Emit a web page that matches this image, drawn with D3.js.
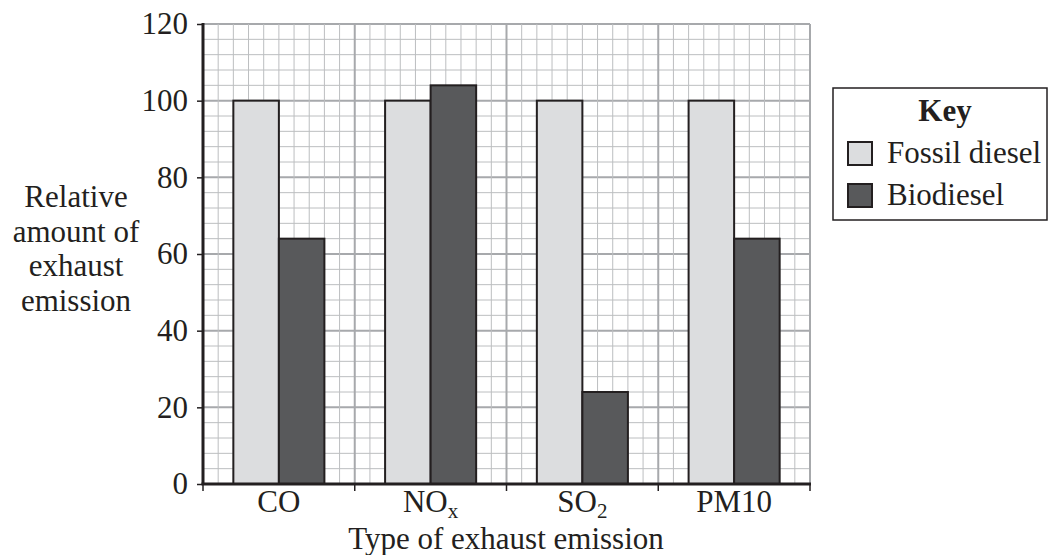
<!DOCTYPE html>
<html lang="en">
<head>
<meta charset="UTF-8">
<title>Exhaust emissions</title>
<script src="https://d3js.org/d3.v7.min.js"></script>
<style>
  body { margin: 0; background: #fff; }
  svg { display: block; font-family: "Liberation Serif", "Times New Roman", serif; fill: #231f20; }
</style>
</head>
<body>
<svg id="chart" width="1048" height="555"></svg>
<script>
// data
const categories = ["CO", "NOx", "SO2", "PM10"];
const fossil = [100, 100, 100, 100];
const biodiesel = [64, 104, 24, 64];
const yTicks = [0, 20, 40, 60, 80, 100, 120];
const seriesNames = ["Fossil diesel", "Biodiesel"];
const seriesColors = ["#dcdddf", "#58595b"];

const plot = { left: 203, right: 810, top: 24, bottom: 484 };
const fs = 31;
const svg = d3.select("#chart");

const x = d3.scaleBand().domain(categories).range([plot.left, plot.right]);
const y = d3.scaleLinear().domain([0, 120]).range([plot.bottom, plot.top]);
const cell = x.bandwidth() / 10;

// grid paper: minor every 4 units / tenth of category, major every 20 / category
const grid = svg.append("g");
d3.range(0, 121, 4).forEach(v => {
  const major = v % 20 === 0;
  grid.append("line")
    .attr("x1", plot.left).attr("x2", plot.right)
    .attr("y1", y(v)).attr("y2", y(v))
    .attr("stroke", major ? "#a7a9ac" : "#bcbec0")
    .attr("stroke-width", major ? 2 : 1);
});
d3.range(0, 41).forEach(i => {
  const major = i % 10 === 0;
  const xx = plot.left + i * cell;
  grid.append("line")
    .attr("x1", xx).attr("x2", xx)
    .attr("y1", plot.top).attr("y2", plot.bottom)
    .attr("stroke", major ? "#a7a9ac" : "#bcbec0")
    .attr("stroke-width", major ? 2 : 1);
});

// bars
const rows = categories.map((c, i) => ({ cat: c, vals: [fossil[i], biodiesel[i]] }));
const bars = svg.append("g");
rows.forEach(r => {
  r.vals.forEach((v, j) => {
    bars.append("rect")
      .attr("x", x(r.cat) + 2 * cell + j * 3 * cell)
      .attr("y", y(v))
      .attr("width", 3 * cell)
      .attr("height", y(0) - y(v))
      .attr("fill", seriesColors[j])
      .attr("stroke", "#231f20")
      .attr("stroke-width", 2);
  });
});

// axes
const yAxis = svg.append("g").attr("transform", `translate(${plot.left},0)`)
  .call(d3.axisLeft(y).tickValues(yTicks).tickSize(6).tickPadding(9));
yAxis.select(".domain").attr("stroke", "#231f20").attr("stroke-width", 3)
  .attr("d", `M0,${plot.top - 1}V${plot.bottom + 1}`);
yAxis.selectAll(".tick line").attr("stroke", "#231f20").attr("stroke-width", 1.5);
yAxis.selectAll(".tick text").attr("font-size", fs).attr("fill", "#231f20")
  .attr("font-family", "Liberation Serif");

const xAxis = svg.append("g").attr("transform", `translate(0,${plot.bottom})`);
xAxis.append("line").attr("x1", plot.left - 1.5).attr("x2", plot.right + 1)
  .attr("stroke", "#231f20").attr("stroke-width", 3);
d3.range(0, 5).forEach(i => {
  const xx = plot.left + i * x.bandwidth();
  xAxis.append("line").attr("x1", xx).attr("x2", xx).attr("y1", 0).attr("y2", 7)
    .attr("stroke", "#231f20").attr("stroke-width", 1.5);
});

// category labels with subscripts
const catLabels = { CO: ["CO", ""], NOx: ["NO", "x"], SO2: ["SO", "2"], PM10: ["PM10", ""] };
categories.forEach(c => {
  const t = svg.append("text")
    .attr("x", x(c) + x.bandwidth() / 2)
    .attr("y", plot.bottom + 28)
    .attr("text-anchor", "middle")
    .attr("font-size", fs);
  t.append("tspan").text(catLabels[c][0]);
  if (catLabels[c][1]) {
    t.append("tspan").attr("font-size", 21).attr("dy", 6).text(catLabels[c][1]);
  }
});

svg.append("text")
  .attr("x", 506).attr("y", 549)
  .attr("text-anchor", "middle").attr("font-size", fs)
  .text("Type of exhaust emission");

// y title
const yTitle = ["Relative", "amount of", "exhaust", "emission"];
svg.append("g").selectAll("text").data(yTitle).join("text")
  .attr("x", 76).attr("y", (d, i) => 207 + i * 34.5)
  .attr("text-anchor", "middle").attr("font-size", fs)
  .text(d => d);

// key
const key = svg.append("g");
key.append("rect").attr("x", 833).attr("y", 88).attr("width", 214).attr("height", 132)
  .attr("fill", "#fff").attr("stroke", "#231f20").attr("stroke-width", 1.5);
key.append("text").attr("x", 945).attr("y", 121).attr("text-anchor", "middle")
  .attr("font-size", fs).attr("font-weight", "bold").text("Key");
seriesNames.forEach((n, i) => {
  key.append("rect").attr("x", 848).attr("y", 142 + i * 42).attr("width", 24).attr("height", 23)
    .attr("fill", seriesColors[i]).attr("stroke", "#231f20").attr("stroke-width", 2);
  key.append("text").attr("x", 887).attr("y", 163 + i * 42)
    .attr("font-size", fs).text(n);
});
</script>
</body>
</html>
